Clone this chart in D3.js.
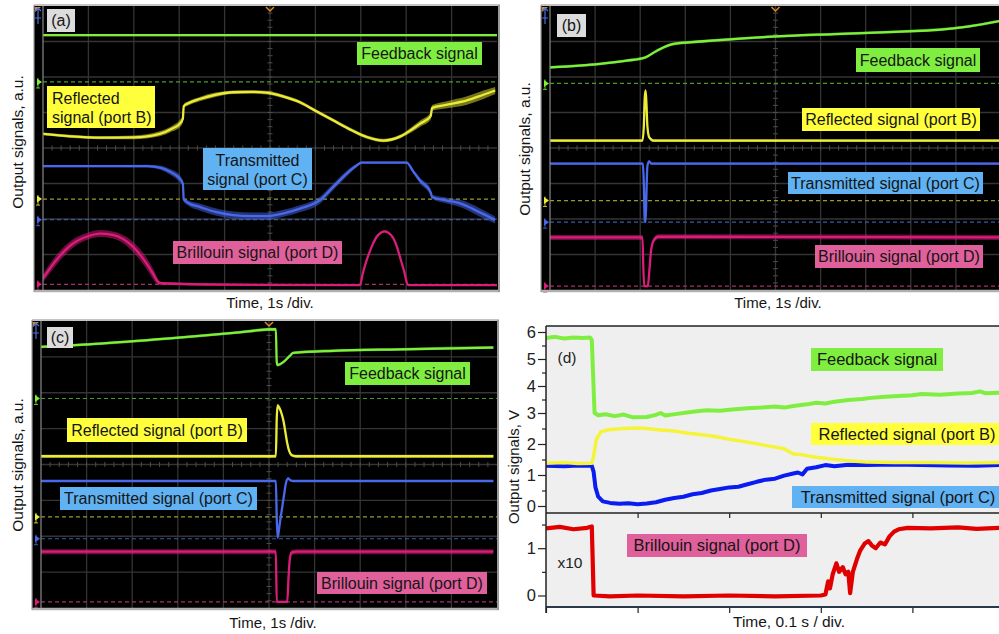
<!DOCTYPE html>
<html><head><meta charset="utf-8">
<script src="https://cdn.jsdelivr.net/npm/d3@7"></script>
<style>html,body{margin:0;padding:0;background:#fff;}svg{display:block;}</style>
</head><body>
<svg id="c" width="999" height="634"></svg>
<script>
// ---------- DATA (oscilloscope panels: time in divisions 0-10, level in divisions 0-8, noise half-width in divisions)
const aFeedback = [[0,7.18,0.03],[5,7.18,0.03],[10,7.18,0.03]];
const aReflected = [[0,4.40,0.04],[0.6,4.33,0.04],[1.25,4.29,0.04],[2.0,4.30,0.05],[2.57,4.40,0.07],[2.85,4.55,0.08],[3.01,4.68,0.1],[3.08,4.82,0.1],[3.1,5.18,0.06],[3.2,5.26,0.06],[3.45,5.38,0.06],[3.8,5.50,0.06],[4.19,5.57,0.05],[4.6,5.58,0.05],[4.92,5.56,0.05],[5.3,5.45,0.05],[5.66,5.29,0.05],[6.0,5.05,0.05],[6.39,4.78,0.05],[6.8,4.50,0.05],[7.13,4.31,0.05],[7.5,4.21,0.05],[7.86,4.32,0.05],[8.1,4.50,0.07],[8.3,4.68,0.09],[8.54,4.90,0.1],[8.57,5.13,0.08],[8.9,5.22,0.1],[9.34,5.34,0.12],[9.7,5.50,0.12],[9.96,5.62,0.1]];
const aTransmitted = [[0,3.49,0.03],[1,3.49,0.03],[2.3,3.49,0.04],[2.6,3.44,0.06],[2.8,3.33,0.08],[3.01,3.14,0.1],[3.08,3.0,0.08],[3.1,2.55,0.06],[3.2,2.45,0.08],[3.45,2.34,0.1],[3.8,2.20,0.1],[4.19,2.11,0.1],[4.6,2.08,0.1],[4.92,2.08,0.1],[5.3,2.16,0.1],[5.66,2.29,0.1],[6.1,2.53,0.1],[6.39,2.90,0.09],[6.69,3.28,0.08],[6.9,3.50,0.05],[7.02,3.59,0.03],[8.01,3.59,0.03],[8.15,3.35,0.06],[8.3,3.09,0.08],[8.54,2.75,0.1],[8.57,2.62,0.06],[8.9,2.52,0.08],[9.19,2.44,0.1],[9.6,2.20,0.12],[9.96,1.97,0.1]];
const aBrillouin = [[0,0.33,0.12],[0.29,0.84,0.14],[0.66,1.31,0.12],[1.0,1.52,0.1],[1.25,1.59,0.1],[1.54,1.55,0.1],[1.98,1.22,0.14],[2.28,0.75,0.16],[2.45,0.40,0.14],[2.53,0.23,0.08],[2.6,0.19,0.04],[4.0,0.15,0.03],[6.98,0.14,0.03],[7.05,0.50,0.03],[7.13,0.84,0.03],[7.25,1.25,0.03],[7.35,1.50,0.03],[7.45,1.62,0.03],[7.53,1.65,0.03],[7.62,1.60,0.03],[7.72,1.45,0.03],[7.8,1.20,0.03],[7.86,0.94,0.03],[7.95,0.55,0.03],[8.04,0.14,0.03],[10,0.14,0.03]];
const aGround = [5.86,2.56,1.98,0.16];

const bFeedback = [[0,6.27,0.04],[1.11,6.37,0.04],[1.7,6.46,0.04],[2.11,6.55,0.04],[2.37,6.74,0.04],[2.74,6.93,0.04],[3.33,7.0,0.04],[4.81,7.13,0.04],[6.3,7.21,0.04],[7.78,7.28,0.04],[8.6,7.33,0.04],[9.26,7.42,0.04],[9.98,7.58,0.04]];
const bReflected = [[0,4.21,0.04],[2.05,4.21,0.04],[2.08,4.6,0.04],[2.1,5.4,0.04],[2.12,5.62,0.04],[2.14,5.2,0.05],[2.16,4.6,0.05],[2.2,4.3,0.05],[2.3,4.21,0.04],[10,4.21,0.04]];
const bTransmitted = [[0,3.56,0.03],[2.06,3.56,0.03],[2.08,3.0,0.03],[2.1,2.0,0.03],[2.12,1.92,0.03],[2.14,2.8,0.03],[2.16,3.5,0.03],[2.2,3.62,0.04],[2.25,3.56,0.03],[10,3.56,0.03]];
const bBrillouin = [[0,1.48,0.07],[2.05,1.48,0.07],[2.07,0.6,0.05],[2.09,0.11,0.03],[2.17,0.11,0.03],[2.2,0.5,0.05],[2.24,1.1,0.07],[2.3,1.4,0.07],[2.4,1.5,0.07],[3,1.5,0.07],[10,1.48,0.07]];
const bGround = [5.82,2.52,1.91,0.11];

const cFeedback = [[0,7.28,0.04],[1.3,7.37,0.04],[2.76,7.51,0.04],[4.22,7.67,0.04],[5.15,7.77,0.04],[5.17,6.85,0.03],[5.19,6.77,0.04],[5.32,6.86,0.04],[5.45,7.02,0.04],[5.53,7.11,0.04],[6.41,7.17,0.04],[7.87,7.21,0.04],[9.92,7.26,0.04]];
const cReflected = [[0,4.23,0.04],[5.15,4.23,0.04],[5.17,5.3,0.04],[5.19,5.65,0.04],[5.22,5.6,0.04],[5.28,5.4,0.04],[5.32,5.2,0.04],[5.36,4.9,0.04],[5.4,4.59,0.04],[5.45,4.35,0.04],[5.5,4.26,0.04],[5.6,4.23,0.04],[9.92,4.23,0.04]];
const cTransmitted = [[0,3.54,0.03],[5.15,3.54,0.03],[5.17,2.5,0.03],[5.19,1.96,0.03],[5.23,2.3,0.03],[5.28,2.73,0.03],[5.33,3.15,0.03],[5.37,3.47,0.03],[5.42,3.61,0.03],[5.47,3.56,0.03],[5.53,3.54,0.03],[9.92,3.54,0.03]];
const cBrillouin = [[0,1.57,0.07],[5.15,1.57,0.07],[5.17,0.17,0.03],[5.4,0.17,0.03],[5.43,0.9,0.05],[5.46,1.4,0.07],[5.5,1.55,0.07],[5.6,1.57,0.07],[9.92,1.57,0.07]];
const cGround = [5.84,2.54,1.93,0.17];

// panel (d): time in divisions of 0.1 s, signals in V (Brillouin x10)
const dFeedback = [[0,5.78],[0.1,5.82],[0.2,5.76],[0.3,5.8],[0.4,5.78],[0.48,5.8],[0.5,5.7],[0.53,3.0],[0.57,2.93],[0.65,2.96],[0.75,2.9],[0.85,2.95],[0.95,2.86],[1.1,2.87],[1.2,2.94],[1.25,3.0],[1.3,2.92],[1.45,2.98],[1.6,3.05],[1.75,3.1],[1.9,3.08],[2.0,3.12],[2.2,3.18],[2.35,3.2],[2.5,3.24],[2.6,3.2],[2.7,3.26],[2.85,3.32],[2.95,3.38],[3.05,3.35],[3.15,3.42],[3.3,3.48],[3.45,3.52],[3.55,3.56],[3.7,3.6],[3.85,3.63],[4.0,3.66],[4.1,3.7],[4.3,3.68],[4.5,3.72],[4.65,3.74],[4.74,3.8],[4.8,3.73],[4.95,3.75]];
const dReflected = [[0,1.38],[0.2,1.4],[0.35,1.37],[0.5,1.38],[0.52,1.6],[0.55,2.15],[0.6,2.4],[0.7,2.47],[0.85,2.5],[1.0,2.52],[1.1,2.5],[1.25,2.45],[1.4,2.42],[1.55,2.35],[1.7,2.3],[1.85,2.24],[2.0,2.15],[2.2,2.06],[2.35,1.98],[2.5,1.9],[2.6,1.85],[2.7,1.68],[2.8,1.65],[2.95,1.57],[3.1,1.52],[3.3,1.46],[3.5,1.42],[3.8,1.4],[4.2,1.4],[4.6,1.39],[4.95,1.4]];
const dTransmitted = [[0,1.3],[0.2,1.28],[0.35,1.31],[0.5,1.3],[0.52,1.1],[0.54,0.6],[0.57,0.3],[0.62,0.15],[0.7,0.1],[0.8,0.07],[0.9,0.09],[1.0,0.06],[1.1,0.08],[1.2,0.12],[1.3,0.2],[1.4,0.26],[1.5,0.3],[1.6,0.38],[1.7,0.42],[1.8,0.5],[1.9,0.55],[2.0,0.6],[2.1,0.62],[2.2,0.7],[2.3,0.78],[2.4,0.85],[2.5,0.88],[2.6,0.98],[2.7,1.05],[2.75,1.08],[2.8,1.02],[2.85,1.2],[2.95,1.25],[3.05,1.32],[3.15,1.28],[3.3,1.33],[3.5,1.32],[3.8,1.34],[4.1,1.32],[4.4,1.31],[4.7,1.3],[4.95,1.32]];
const dBrillouin = [[0,1.42],[0.15,1.45],[0.3,1.4],[0.45,1.43],[0.5,1.46],[0.52,0],[0.7,-0.02],[1,0],[1.5,-0.02],[2,0],[2.5,-0.02],[3.0,0],[3.05,0.02],[3.08,0.3],[3.1,0.15],[3.13,0.45],[3.17,0.68],[3.2,0.5],[3.24,0.6],[3.27,0.45],[3.3,0.5],[3.32,0.05],[3.35,0.5],[3.4,0.8],[3.43,0.95],[3.48,1.1],[3.52,1.15],[3.56,1.05],[3.6,1.0],[3.65,1.12],[3.7,1.08],[3.75,1.25],[3.8,1.35],[3.85,1.4],[3.95,1.43],[4.2,1.42],[4.5,1.44],[4.7,1.41],[4.95,1.43]];
const dTopTicks = [0,1,2,3,4,5,6];
const dBotTicks = [0,1];
const xTicksD = [0,1,2,3,4,5];

const labelNames = {fb:['Feedback signal'], rf:['Reflected signal (port B)'], tr:['Transmitted signal (port C)'], br:['Brillouin signal (port D)']};

// ---------- STYLE
const FONT = '"Liberation Sans", Arial, Helvetica, sans-serif';
const traceCol = ['#7cf03a','#ecec38','#4a68ea','#da1c7a'];
const groundCol = ['#4a9a2a','#9a9a30','#3a5aa8','#a8306a'];
const boxCol = {fb:'#80ee40', rf:'#ffff3c', tr:'#60b2f2', br:'#e0609b', tag:'#dcdcdc'};

const svg = d3.select('#c').style('font-family', FONT);

function addBox(g, b){
  g.append('rect').attr('x',b.x).attr('y',b.y).attr('width',b.w).attr('height',b.h).attr('fill',b.fill);
  b.lines.forEach((t,i)=>{
    g.append('text')
      .attr('x', b.align==='start' ? b.x+5 : b.x+b.w/2)
      .attr('y', b.lines.length===1 ? b.y+b.h/2+5.6 : b.y+18+i*19)
      .attr('text-anchor', b.align==='start' ? 'start' : 'middle')
      .attr('font-size', b.fs||16).attr('fill','#151515').text(t);
  });
}

let clipN = 0;
function drawScope(cfg, traces, ground, boxes){
  const g = svg.append('g');
  const x = d3.scaleLinear().domain([0,10]).range([cfg.l,cfg.r]);
  const y = d3.scaleLinear().domain([0,8]).range([cfg.b,cfg.t]);
  g.append('rect').attr('x',cfg.fx).attr('y',cfg.t-1).attr('width',cfg.fr-cfg.fx).attr('height',cfg.b-cfg.t+3).attr('fill','#000');
  // grid
  g.append('g').selectAll('line').data(d3.range(1,10)).join('line')
    .attr('x1',d=>x(d)).attr('x2',d=>x(d)).attr('y1',cfg.t).attr('y2',cfg.b).attr('stroke','#343434').attr('stroke-width',1.3);
  g.append('g').selectAll('line').data(d3.range(1,8)).join('line')
    .attr('y1',d=>y(d)).attr('y2',d=>y(d)).attr('x1',cfg.l).attr('x2',cfg.r).attr('stroke','#343434').attr('stroke-width',1.3);
  g.append('g').selectAll('line').data(d3.range(1,40).map(i=>i*0.2)).join('line')
    .attr('x1',x(5)-2.5).attr('x2',x(5)+2.5).attr('y1',d=>y(d)).attr('y2',d=>y(d)).attr('stroke','#4c4c4c');
  g.append('g').selectAll('line').data(d3.range(1,50).map(i=>i*0.2)).join('line')
    .attr('y1',y(4)-2.5).attr('y2',y(4)+2.5).attr('x1',d=>x(d)).attr('x2',d=>x(d)).attr('stroke','#4c4c4c');
  // ground reference lines and channel markers
  ground.forEach((lv,i)=>{
    g.append('line').attr('x1',cfg.l).attr('x2',cfg.r).attr('y1',y(lv)).attr('y2',y(lv))
      .attr('stroke',groundCol[i]).attr('stroke-width',1.2).attr('stroke-dasharray','4,3');
    const yy = y(lv);
    g.append('path').attr('d',`M${cfg.l-6},${yy-3.5}L${cfg.l-1},${yy}L${cfg.l-6},${yy+3.5}Z`).attr('fill',traceCol[i]);
    g.append('path').attr('d',`M${cfg.fx+4},${yy-4}V${yy+6}M${cfg.fx+2},${yy+6}H${cfg.fx+6}M${cfg.fx+4},${yy}H${cfg.l-6}`)
      .attr('stroke',traceCol[i]).attr('stroke-width',1).attr('fill','none').attr('opacity',0.8);
  });
  // corner / trigger markers
  g.append('path').attr('d',`M${cfg.l-8},${cfg.t+1}L${cfg.l-2},${cfg.t+1}L${cfg.l-8},${cfg.t+6}Z`).attr('fill','#e08a20');
  g.append('path').attr('d',`M${cfg.fx+4},${cfg.t+2}V${cfg.t+18}M${cfg.fx+1},${cfg.t+5}L${cfg.fx+4},${cfg.t+2}L${cfg.fx+7},${cfg.t+5}M${cfg.fx+1},${cfg.t+12}H${cfg.fx+7}`)
    .attr('stroke','#4a70e0').attr('stroke-width',1.2).attr('fill','none');
  g.append('path').attr('d',`M${x(5)-4},${cfg.t+1}L${x(5)},${cfg.t+5}L${x(5)+4},${cfg.t+1}`)
    .attr('stroke','#e08a20').attr('stroke-width',1.5).attr('fill','none');
  // traces
  const id = 'clip'+(clipN++);
  svg.append('defs').append('clipPath').attr('id',id).append('rect')
    .attr('x',cfg.l).attr('y',cfg.t).attr('width',cfg.r-cfg.l).attr('height',cfg.b-cfg.t);
  const tg = g.append('g').attr('clip-path',`url(#${id})`);
  const area = d3.area().x(d=>x(d[0])).y0(d=>y(d[1]-d[2])).y1(d=>y(d[1]+d[2])).curve(d3.curveMonotoneX);
  const line = d3.line().x(d=>x(d[0])).y(d=>y(d[1])).curve(d3.curveMonotoneX);
  traces.forEach((tr,i)=>{
    tg.append('path').attr('d',area(tr)).attr('fill',traceCol[i]).attr('opacity',0.5);
    tg.append('path').attr('d',line(tr)).attr('fill','none').attr('stroke',traceCol[i]).attr('stroke-width',2.3);
  });
  // borders
  g.append('line').attr('x1',cfg.fx).attr('x2',cfg.fr).attr('y1',cfg.t-1).attr('y2',cfg.t-1).attr('stroke','#c4c4c4').attr('stroke-width',2);
  g.append('line').attr('x1',cfg.fx).attr('x2',cfg.fr).attr('y1',cfg.b+1).attr('y2',cfg.b+1).attr('stroke','#b0b0b0').attr('stroke-width',2.5);
  g.append('line').attr('x1',cfg.l).attr('x2',cfg.l).attr('y1',cfg.t).attr('y2',cfg.b).attr('stroke','#8a8a8a').attr('stroke-width',1.2);
  g.append('line').attr('x1',cfg.fx).attr('x2',cfg.fx).attr('y1',cfg.t-1).attr('y2',cfg.b+2).attr('stroke','#9a9a9a').attr('stroke-width',1.2);
  if (cfg.fr < 999) g.append('line').attr('x1',cfg.fr-1).attr('x2',cfg.fr-1).attr('y1',cfg.t-1).attr('y2',cfg.b+2).attr('stroke','#9a9a9a').attr('stroke-width',2);
  boxes.forEach(b=>addBox(g,b));
  // axis titles
  g.append('text').attr('transform',`translate(${cfg.ylx},${cfg.yly}) rotate(-90)`).attr('text-anchor','middle')
    .attr('font-size',15.5).attr('fill','#151515').text('Output signals, a.u.');
  g.append('text').attr('x',cfg.xlx).attr('y',cfg.xly).attr('text-anchor','middle')
    .attr('font-size',15).attr('fill','#151515').text('Time, 1s /div.');
}

drawScope({fx:34,l:43,r:497,t:6,b:290,fr:500,ylx:23,yly:142,xlx:270,xly:308},
  [aFeedback,aReflected,aTransmitted,aBrillouin], aGround, [
  {x:47,y:9,w:28,h:23,fill:boxCol.tag,lines:['(a)']},
  {x:357,y:42,w:125,h:23,fill:boxCol.fb,lines:labelNames.fb},
  {x:47,y:86,w:108,h:42,fill:boxCol.rf,lines:['Reflected','signal (port B)'],align:'start'},
  {x:203,y:148,w:109,h:42,fill:boxCol.tr,lines:['Transmitted','signal (port C)']},
  {x:173,y:241,w:169,h:23,fill:boxCol.br,lines:labelNames.br}]);

drawScope({fx:541,l:550,r:1001,t:6,b:290,fr:1004,ylx:530,yly:149,xlx:778,xly:308},
  [bFeedback,bReflected,bTransmitted,bBrillouin], bGround, [
  {x:557,y:14,w:29,h:23,fill:boxCol.tag,lines:['(b)']},
  {x:856,y:48,w:124,h:24,fill:boxCol.fb,lines:labelNames.fb},
  {x:802,y:108,w:178,h:23,fill:boxCol.rf,lines:labelNames.rf},
  {x:788,y:172,w:195,h:22,fill:boxCol.tr,lines:labelNames.tr},
  {x:815,y:245,w:168,h:23,fill:boxCol.br,lines:labelNames.br}]);

drawScope({fx:32,l:41,r:497,t:321,b:608,fr:499,ylx:23,yly:465,xlx:273,xly:628},
  [cFeedback,cReflected,cTransmitted,cBrillouin], cGround, [
  {x:47,y:327,w:26,h:21,fill:boxCol.tag,lines:['(c)']},
  {x:345,y:362,w:125,h:23,fill:boxCol.fb,lines:labelNames.fb},
  {x:67,y:418,w:180,h:24,fill:boxCol.rf,lines:labelNames.rf},
  {x:60,y:487,w:197,h:23,fill:boxCol.tr,lines:labelNames.tr},
  {x:317,y:572,w:170,h:22,fill:boxCol.br,lines:labelNames.br}]);

// ---------- PANEL (d)
(function(){
  const g = svg.append('g');
  const L=546, R=999, T=326, M=513, B=607;
  const x = d3.scaleLinear().domain([0,5]).range([L,1004]);
  const yT = d3.scaleLinear().domain([0,3,6]).range([506,413,332]);
  const yB = d3.scaleLinear().domain([0,1]).range([595.5,548.2]);
  g.append('rect').attr('x',L).attr('y',T).attr('width',R-L).attr('height',B-T).attr('fill','#efefef');
  svg.append('defs').call(d=>{
    d.append('clipPath').attr('id','dTop').append('rect').attr('x',L).attr('y',T).attr('width',R-L).attr('height',M-T);
    d.append('clipPath').attr('id','dBot').append('rect').attr('x',L).attr('y',M).attr('width',R-L).attr('height',B-M);
  });
  const ln = ys => d3.line().x(d=>x(d[0])).y(d=>ys(d[1]));
  const gt = g.append('g').attr('clip-path','url(#dTop)');
  gt.append('path').attr('d',ln(yT)(dFeedback)).attr('fill','none').attr('stroke','#80ee40').attr('stroke-width',4).attr('stroke-linejoin','round');
  gt.append('path').attr('d',ln(yT)(dTransmitted)).attr('fill','none').attr('stroke','#0a1cf0').attr('stroke-width',4).attr('stroke-linejoin','round');
  gt.append('path').attr('d',ln(yT)(dReflected)).attr('fill','none').attr('stroke','#f4f43a').attr('stroke-width',3.5).attr('stroke-linejoin','round');
  const gb = g.append('g').attr('clip-path','url(#dBot)');
  gb.append('path').attr('d',ln(yB)(dBrillouin)).attr('fill','none').attr('stroke','#e00000').attr('stroke-width',4.2).attr('stroke-linejoin','round');
  // axes
  const fmt = d3.format('d');
  const styleAxis = sel => { sel.select('.domain').remove(); sel.selectAll('text').attr('font-size',16.5).attr('fill','#222').attr('font-family',FONT); sel.selectAll('line').attr('stroke','#222').attr('stroke-width',1.2); };
  g.append('g').attr('transform',`translate(${L},0)`).call(d3.axisLeft(yT).tickValues(dTopTicks).tickFormat(fmt).tickSize(8).tickSizeOuter(0).tickPadding(2)).call(styleAxis);
  g.append('g').attr('transform',`translate(${L},0)`).call(d3.axisLeft(yT).tickValues(dTopTicks.slice(0,-1).map(v=>v+0.5)).tickSize(4).tickFormat('')).call(styleAxis);
  g.append('g').attr('transform',`translate(${L},0)`).call(d3.axisLeft(yB).tickValues(dBotTicks).tickFormat(fmt).tickSize(8).tickSizeOuter(0).tickPadding(2)).call(styleAxis);
  g.append('g').attr('transform',`translate(${L},0)`).call(d3.axisLeft(yB).tickValues([0.5,1.5]).tickSize(4).tickFormat('')).call(styleAxis);
  g.append('g').attr('transform',`translate(0,${B})`).call(d3.axisBottom(x).tickValues(xTicksD).tickSize(6).tickFormat('')).call(styleAxis);
  g.append('g').attr('transform',`translate(0,${M})`).call(d3.axisBottom(x).tickValues(xTicksD.slice(1,5)).tickSize(5).tickFormat('')).call(styleAxis);
  g.append('line').attr('x1',L).attr('x2',R).attr('y1',T).attr('y2',T).attr('stroke','#222').attr('stroke-width',1.5);
  g.append('line').attr('x1',L).attr('x2',R).attr('y1',M).attr('y2',M).attr('stroke','#222').attr('stroke-width',1.5);
  g.append('line').attr('x1',L).attr('x2',R).attr('y1',B).attr('y2',B).attr('stroke','#2a3a4a').attr('stroke-width',2);
  g.append('line').attr('x1',L).attr('x2',L).attr('y1',T).attr('y2',B+6).attr('stroke','#222').attr('stroke-width',1.5);
  // labels
  addBox(g,{x:811,y:348,w:132,h:23,fill:boxCol.fb,lines:labelNames.fb,fs:16.5});
  addBox(g,{x:811,y:423,w:192,h:22,fill:boxCol.rf,lines:labelNames.rf,fs:16.5});
  addBox(g,{x:792,y:486,w:212,h:22,fill:boxCol.tr,lines:labelNames.tr,fs:16.5});
  addBox(g,{x:627,y:534,w:180,h:23,fill:boxCol.br,lines:labelNames.br,fs:16.5});
  g.append('text').attr('x',567).attr('y',363).attr('text-anchor','middle').attr('font-size',15.5).attr('fill','#222').text('(d)');
  g.append('text').attr('x',570).attr('y',568).attr('text-anchor','middle').attr('font-size',15.5).attr('fill','#222').text('x10');
  g.append('text').attr('transform','translate(519,467) rotate(-90)').attr('text-anchor','middle').attr('font-size',15).attr('fill','#151515').text('Output signals, V');
  g.append('text').attr('x',789).attr('y',627).attr('text-anchor','middle').attr('font-size',15.5).attr('fill','#151515').text('Time, 0.1 s / div.');
})();
</script>
</body></html>
